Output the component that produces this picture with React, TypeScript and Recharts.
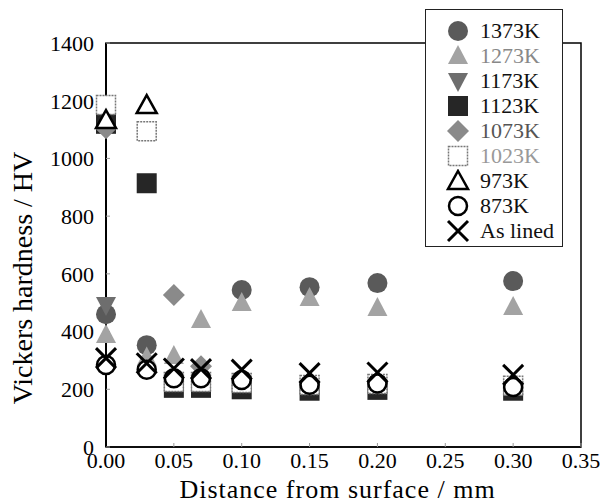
import React from "react";
import { ScatterChart, Scatter, XAxis, YAxis, ReferenceArea, Legend } from "recharts";

// distance from surface (mm) and Vickers hardness (HV)
const x1373 = [0, 0.03, 0.1, 0.15, 0.2, 0.3];
const hv1373 = [460, 353, 544, 554, 568, 575];
const x1273 = [0, 0.03, 0.05, 0.07, 0.1, 0.15, 0.2, 0.3];
const hv1273 = [388, 310, 315, 440, 499, 516, 482, 485];
const x1173 = [0];
const hv1173 = [492];
const x1123 = [0, 0.03, 0.05, 0.07, 0.1, 0.15, 0.2, 0.3];
const hv1123 = [1120, 914, 205, 205, 200, 195, 198, 195];
const x1073 = [0, 0.05, 0.07];
const hv1073 = [1105, 527, 280];
const x1023 = [0, 0.03, 0.05, 0.07, 0.1, 0.15, 0.2, 0.3];
const hv1023 = [1185, 1094, 225, 225, 222, 215, 218, 212];
const x973 = [0, 0.03];
const hv973 = [1133, 1185];
const x873 = [0, 0.03, 0.05, 0.07, 0.1, 0.15, 0.2, 0.3];
const hv873 = [284, 268, 238, 238, 232, 216, 220, 208];
const xLined = [0, 0.03, 0.05, 0.07, 0.1, 0.15, 0.2, 0.3];
const hvLined = [308, 290, 272, 270, 268, 256, 258, 250];

const xTicks = [0, 0.05, 0.1, 0.15, 0.2, 0.25, 0.3, 0.35];
const yTicks = [0, 200, 400, 600, 800, 1000, 1200, 1400];

const pts = (xs: number[], ys: number[]) => xs.map((x, i) => ({ x, y: ys[i] }));

type Kind = "circle" | "tri" | "invtri" | "square" | "diamond" | "osquare" | "otri" | "ocircle" | "x";

const series: { name: string; data: { x: number; y: number }[]; kind: Kind; fill: string; text: string }[] = [
  { name: "1373K", data: pts(x1373, hv1373), kind: "circle", fill: "#5a5a5a", text: "#111" },
  { name: "1273K", data: pts(x1273, hv1273), kind: "tri", fill: "#a3a3a3", text: "#888" },
  { name: "1173K", data: pts(x1173, hv1173), kind: "invtri", fill: "#6e6e6e", text: "#111" },
  { name: "1123K", data: pts(x1123, hv1123), kind: "square", fill: "#262626", text: "#111" },
  { name: "1073K", data: pts(x1073, hv1073), kind: "diamond", fill: "#8a8a8a", text: "#555" },
  { name: "1023K", data: pts(x1023, hv1023), kind: "osquare", fill: "#fff", text: "#999" },
  { name: "973K", data: pts(x973, hv973), kind: "otri", fill: "#fff", text: "#111" },
  { name: "873K", data: pts(x873, hv873), kind: "ocircle", fill: "#fff", text: "#111" },
  { name: "As lined", data: pts(xLined, hvLined), kind: "x", fill: "none", text: "#111" },
];

function Marker({ kind, cx, cy, fill }: { kind: Kind; cx: number; cy: number; fill: string }) {
  switch (kind) {
    case "circle":
      return <circle cx={cx} cy={cy} r={10} fill={fill} />;
    case "tri":
      return <polygon points={`${cx},${cy - 11} ${cx + 10},${cy + 8} ${cx - 10},${cy + 8}`} fill={fill} />;
    case "invtri":
      return <polygon points={`${cx - 10},${cy - 8} ${cx + 10},${cy - 8} ${cx},${cy + 11}`} fill={fill} />;
    case "square":
      return <rect x={cx - 10} y={cy - 10} width={20} height={20} fill={fill} />;
    case "diamond":
      return <polygon points={`${cx},${cy - 11} ${cx + 11},${cy} ${cx},${cy + 11} ${cx - 11},${cy}`} fill={fill} />;
    case "osquare":
      return (
        <rect x={cx - 9.5} y={cy - 9.5} width={19} height={19} fill="#fff"
          stroke="#777" strokeWidth={1.5} strokeDasharray="2 1" />
      );
    case "otri":
      return (
        <polygon points={`${cx},${cy - 10} ${cx + 10},${cy + 8} ${cx - 10},${cy + 8}`}
          fill="#fff" stroke="#000" strokeWidth={2.5} strokeLinejoin="miter" />
      );
    case "ocircle":
      return <circle cx={cx} cy={cy} r={9} fill="#fff" stroke="#000" strokeWidth={2.5} />;
    case "x":
    default:
      return (
        <g stroke="#000" strokeWidth={3}>
          <line x1={cx - 10} y1={cy - 10} x2={cx + 10} y2={cy + 10} />
          <line x1={cx - 10} y1={cy + 10} x2={cx + 10} y2={cy - 10} />
        </g>
      );
  }
}

const font = "Liberation Serif";

function LegendBox() {
  return (
    <div style={{
      background: "#fff", border: "1.5px solid #222", boxSizing: "border-box",
      width: 138, height: 238, paddingTop: 8, fontFamily: font, fontSize: 22,
    }}>
      {series.map((s) => (
        <div key={s.name} style={{ height: 25, display: "flex", alignItems: "center" }}>
          <svg width={24} height={24} style={{ marginLeft: 20 }}>
            <Marker kind={s.kind} cx={12} cy={12} fill={s.fill} />
          </svg>
          <span style={{ marginLeft: 10, color: s.text, lineHeight: "25px" }}>{s.name}</span>
        </div>
      ))}
    </div>
  );
}

export default function App() {
  return (
    <div style={{ position: "absolute", left: 0, top: 0, width: 605, height: 504, background: "#fff", fontFamily: font }}>
      <ScatterChart width={605} height={504} margin={{ top: 43, right: 24, bottom: 27, left: 0 }}>
        <XAxis type="number" dataKey="x" domain={[0, 0.35]} ticks={xTicks} interval={0}
          tickFormatter={(v) => v.toFixed(2)} tickSize={-4} tickMargin={9}
          axisLine={{ stroke: "#000", strokeWidth: 1.5 }} tickLine={{ stroke: "#999" }}
          tick={{ fill: "#000", fontSize: 22, fontFamily: font }}
          label={{ value: "Distance from surface / mm", position: "insideBottom", offset: 0,
            dx: -6, dy: 21, fill: "#000", fontSize: 26, fontFamily: font, style: { letterSpacing: 1 } }} />
        <YAxis type="number" dataKey="y" domain={[0, 1400]} ticks={yTicks} interval={0}
          width={106} tickSize={-4} tickMargin={16}
          axisLine={{ stroke: "#000", strokeWidth: 2 }} tickLine={{ stroke: "#999" }}
          tick={{ fill: "#000", fontSize: 22, fontFamily: font }}
          label={{ value: "Vickers hardness / HV", angle: -90, position: "insideLeft", offset: 0,
            dx: 22, dy: 33, fill: "#000", fontSize: 28, fontFamily: font, style: { textAnchor: "middle" } }} />
        <ReferenceArea x1={0} x2={0.35} y1={0} y2={1400} fill="none" stroke="#000" strokeWidth={1.5} />
        {series.map((s) => (
          <Scatter key={s.name} name={s.name} data={s.data} isAnimationActive={false}
            shape={(p: any) => <Marker kind={s.kind} cx={p.cx} cy={p.cy} fill={s.fill} />} />
        ))}
        <Legend layout="vertical" align="center" verticalAlign="middle" content={() => <LegendBox />}
          wrapperStyle={{ position: "absolute", left: 425, top: 9, width: 138, height: 238 }} />
      </ScatterChart>
    </div>
  );
}
